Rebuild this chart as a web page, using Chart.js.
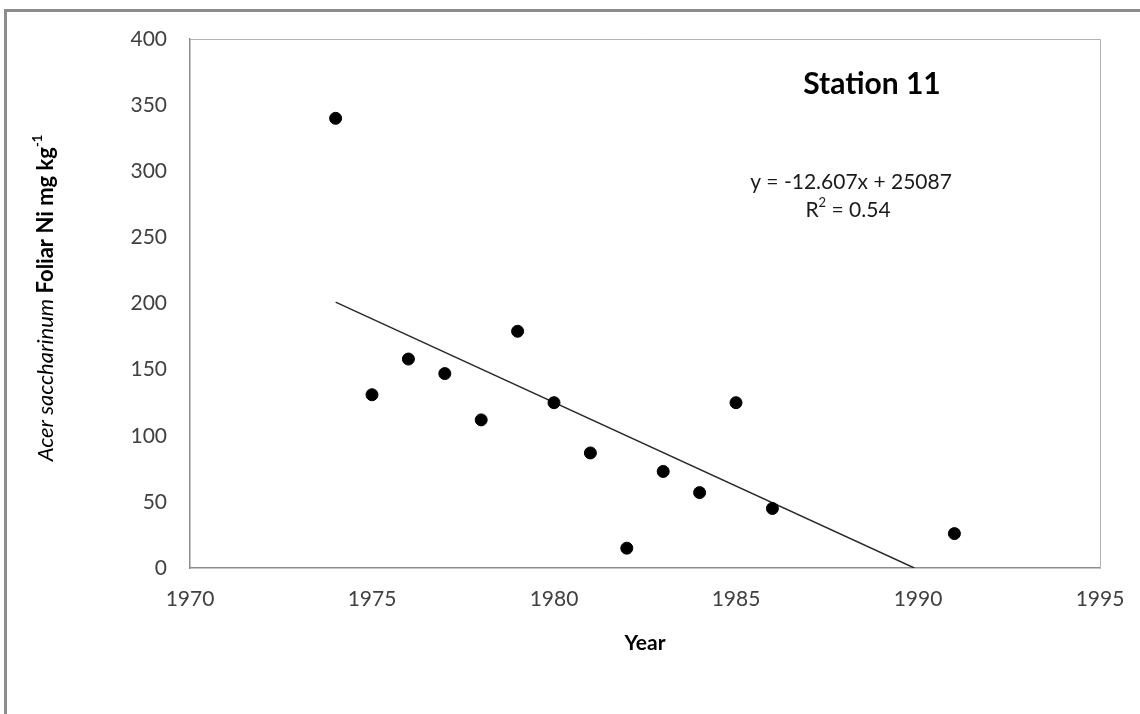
<!DOCTYPE html>
<html>
<head>
<meta charset="utf-8">
<script src="https://cdn.jsdelivr.net/npm/chart.js@4"></script>
<style>
html,body{margin:0;padding:0;background:#fff;}
#wrap{width:1140px;height:714px;position:relative;}
</style>
</head>
<body>
<div id="wrap"><canvas id="c" width="1140" height="714"></canvas></div>
<script>
const years = [1974, 1975, 1976, 1977, 1978, 1979, 1980, 1981, 1982, 1983, 1984, 1985, 1986, 1991];
const nickel = [340, 131, 158, 147, 112, 179, 125, 87, 15, 73, 57, 125, 45, 26];
const trendX = [1974, 1989.9];
const trendY = [201, 0];
const xTicks = [1970, 1975, 1980, 1985, 1990, 1995];
const yTicks = [0, 50, 100, 150, 200, 250, 300, 350, 400];
const titleText = "Station 11";
const eqText = "y = -12.607x + 25087";
const r2Base = "R";
const r2Sup = "2";
const r2Rest = " = 0.54";
const xTitle = "Year";
const yTitleItalic = "Acer saccharinum";
const yTitleRest = " Foliar Ni mg kg";
const yTitleSup = "-1";

const FONT = "Lato, 'Open Sans', sans-serif";

const decor = {
  id: 'decor',
  beforeDraw(chart) {
    const ctx = chart.ctx;
    ctx.save();
    ctx.fillStyle = '#fff';
    ctx.fillRect(0, 0, chart.width, chart.height);
    ctx.fillStyle = '#8c8c8c';
    ctx.fillRect(4, 9, chart.width - 4, 3);
    ctx.fillRect(4, 9, 3, chart.height - 9);
    ctx.restore();
  },
  afterDatasetsDraw(chart) {
    const ctx = chart.ctx;
    const a = chart.chartArea;
    ctx.save();
    ctx.strokeStyle = '#b3b3b3';
    ctx.lineWidth = 1;
    ctx.beginPath();
    ctx.moveTo(a.left, a.top + 0.5);
    ctx.lineTo(a.right + 0.5, a.top + 0.5);
    ctx.lineTo(a.right + 0.5, a.bottom);
    ctx.stroke();

    ctx.fillStyle = '#000';
    ctx.textAlign = 'center';
    ctx.textBaseline = 'middle';
    ctx.font = "bold 30px " + FONT;
    ctx.fillText(titleText, 872, 84);
    ctx.fillStyle = '#1a1a1a';
    ctx.font = "21px " + FONT;
    ctx.fillText(eqText, 851, 182);

    // R² line
    ctx.textAlign = 'left';
    const fN = "21px " + FONT, fS = "13px " + FONT;
    ctx.font = fN; const rw1 = ctx.measureText(r2Base).width, rw3 = ctx.measureText(r2Rest).width;
    ctx.font = fS; const rw2 = ctx.measureText(r2Sup).width;
    let rx = 848 - (rw1 + rw2 + rw3) / 2;
    ctx.font = fN; ctx.fillText(r2Base, rx, 210);
    ctx.font = fS; ctx.fillText(r2Sup, rx + rw1, 203);
    ctx.font = fN; ctx.fillText(r2Rest, rx + rw1 + rw2, 210);

    // x title
    ctx.textAlign = 'center';
    ctx.font = "bold 21px " + FONT;
    ctx.fillStyle = '#000';
    ctx.fillText(xTitle, (a.left + a.right) / 2, 643);

    // y title, rotated
    ctx.translate(46, 298);
    ctx.rotate(-Math.PI / 2);
    ctx.textAlign = 'left';
    const fItal = "italic 22px " + FONT;
    const fBold = "bold 22px " + FONT;
    const fSup = "bold 13px " + FONT;
    ctx.font = fItal; const w1 = ctx.measureText(yTitleItalic).width;
    ctx.font = fBold; const w2 = ctx.measureText(yTitleRest).width;
    ctx.font = fSup; const w3 = ctx.measureText(yTitleSup).width;
    let x0 = -(w1 + w2 + w3) / 2;
    ctx.font = fItal; ctx.fillText(yTitleItalic, x0, 0);
    ctx.font = fBold; ctx.fillText(yTitleRest, x0 + w1, 0);
    ctx.font = fSup; ctx.fillText(yTitleSup, x0 + w1 + w2, -8);
    ctx.restore();
  }
};

new Chart(document.getElementById('c'), {
  type: 'scatter',
  data: {
    datasets: [
      {
        label: 'Ni',
        data: years.map((x, i) => ({ x: x, y: nickel[i] })),
        backgroundColor: '#000',
        borderColor: '#000',
        pointRadius: 6,
        pointHoverRadius: 6,
        order: 1
      },
      {
        label: 'Trend',
        type: 'line',
        data: trendX.map((x, i) => ({ x: x, y: trendY[i] })),
        borderColor: '#2a2a2a',
        borderWidth: 1.5,
        pointRadius: 0,
        fill: false,
        order: 2
      }
    ]
  },
  options: {
    responsive: false,
    animation: false,
    events: [],
    layout: { padding: { left: 0, right: 40, top: 39, bottom: 0 } },
    plugins: { legend: { display: false }, tooltip: { enabled: false }, title: { display: false } },
    scales: {
      x: {
        type: 'linear',
        min: 1970, max: 1995,
        afterBuildTicks(s) { s.ticks = xTicks.map(v => ({ value: v })); },
        afterFit(s) { s.height = 146; s.paddingRight = 0; s.paddingLeft = 0; },
        grid: { display: false, drawTicks: false },
        border: { display: true, color: '#8c8c8c', width: 1.5 },
        ticks: { color: '#404040', font: { family: FONT, size: 21 }, padding: 19, maxRotation: 0, autoSkip: false,
                 callback: v => String(v) }
      },
      y: {
        type: 'linear',
        min: 0, max: 400,
        afterBuildTicks(s) { s.ticks = yTicks.map(v => ({ value: v })); },
        afterFit(s) { s.width = 190; s.paddingTop = 0; s.paddingBottom = 0; },
        grid: { display: false, drawTicks: false },
        border: { display: true, color: '#8c8c8c', width: 1.5 },
        ticks: { color: '#404040', font: { family: FONT, size: 21 }, padding: 23 }
      }
    }
  },
  plugins: [decor]
});
</script>
</body>
</html>
